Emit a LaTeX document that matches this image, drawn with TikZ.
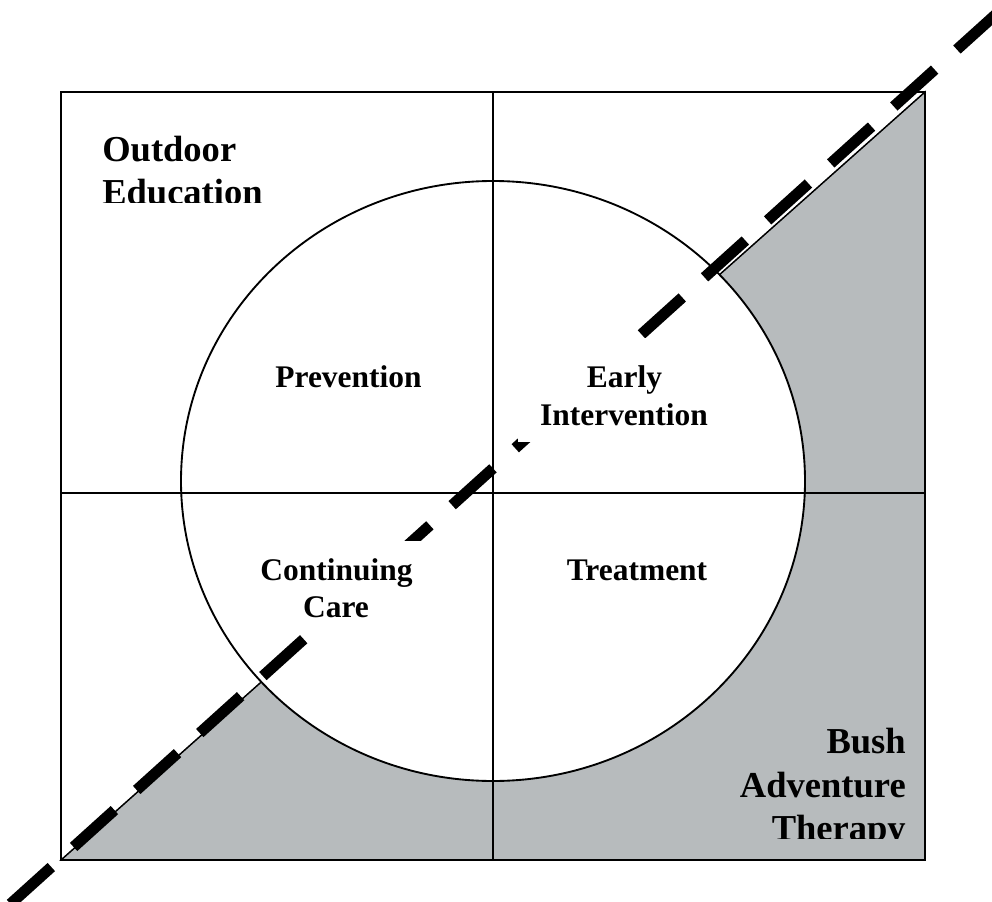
\documentclass[tikz,border=0pt]{standalone}
\usepackage{fontspec}
\setmainfont{Liberation Serif}
\definecolor{shade}{RGB}{183,187,189}
\tikzset{
  thinline/.style={line width=1.4pt, black},
  bigdash/.style={line width=8.25pt, black, dash pattern=on 41.25pt off 22.5pt},
  outerlabel/.style={inner sep=0pt, font=\fontsize{27.4pt}{32pt}\selectfont\bfseries},
  innerlabel/.style={inner sep=0pt, font=\fontsize{23.6pt}{28pt}\selectfont\bfseries},
  cover/.style={fill=white, draw=none}
}
\begin{document}
\begin{tikzpicture}[x=0.75pt, y=-0.75pt]
\clip (0,0) rectangle (992,902);
\fill[white] (0,0) rectangle (992,902);
% corners
\coordinate (tl) at (61,92);
\coordinate (tr) at (925,92);
\coordinate (bl) at (61,860);
\coordinate (br) at (925,860);
\coordinate (top) at (493,92);
\coordinate (bot) at (493,860);
\coordinate (lft) at (61,493);
\coordinate (rgt) at (925,493);
\coordinate (c) at (493,481);
% shaded triangle
\filldraw[fill=shade, draw=black, line width=1.1pt] (bl) -- (tr) -- (br) -- cycle;
% circle
\fill[white] (c) ellipse [x radius=234pt, y radius=225pt];
% quadrant lines
\draw[thinline] (top) -- (bot);
\draw[thinline] (lft) -- (rgt);
\draw[thinline] (c) ellipse [x radius=234pt, y radius=225pt];
\draw[thinline] (tl) rectangle (br);
% dashed diagonal
\coordinate (ds) at (10.5,903.9);
\coordinate (de) at (997.8,12.6);
\draw[bigdash] (ds) -- (de);
% white text boxes hiding parts of the dashed line
\fill[cover] (518,338) rectangle (722,442);
\fill[cover] (245,541) rectangle (440,632);
% labels
\node[outerlabel, anchor=base west] (od1) at (102,161.5) {Outdoor};
\begin{scope}
\clip (61,92) rectangle (400,203);
\node[outerlabel, anchor=base west] (od2) at (102,205) {Education};
\end{scope}
\node[outerlabel, anchor=base east] (ba1) at (906,753) {Bush};
\node[outerlabel, anchor=base east] (ba2) at (906,797) {Adventure};
\begin{scope}
\clip (600,800) rectangle (925,838);
\node[outerlabel, anchor=base east] (ba3) at (906,840.5) {Therapy};
\end{scope}
\node[innerlabel, anchor=base] (prev) at (348.5,387.3) {Prevention};
\node[innerlabel, anchor=base] (ei1) at (624.5,387.3) {Early};
\node[innerlabel, anchor=base] (ei2) at (624,425) {Intervention};
\node[innerlabel, anchor=base] (cc1) at (336.5,580) {Continuing};
\node[innerlabel, anchor=base] (cc2) at (336,617) {Care};
\node[innerlabel, anchor=base] (treat) at (637,580) {Treatment};
\end{tikzpicture}
\end{document}
